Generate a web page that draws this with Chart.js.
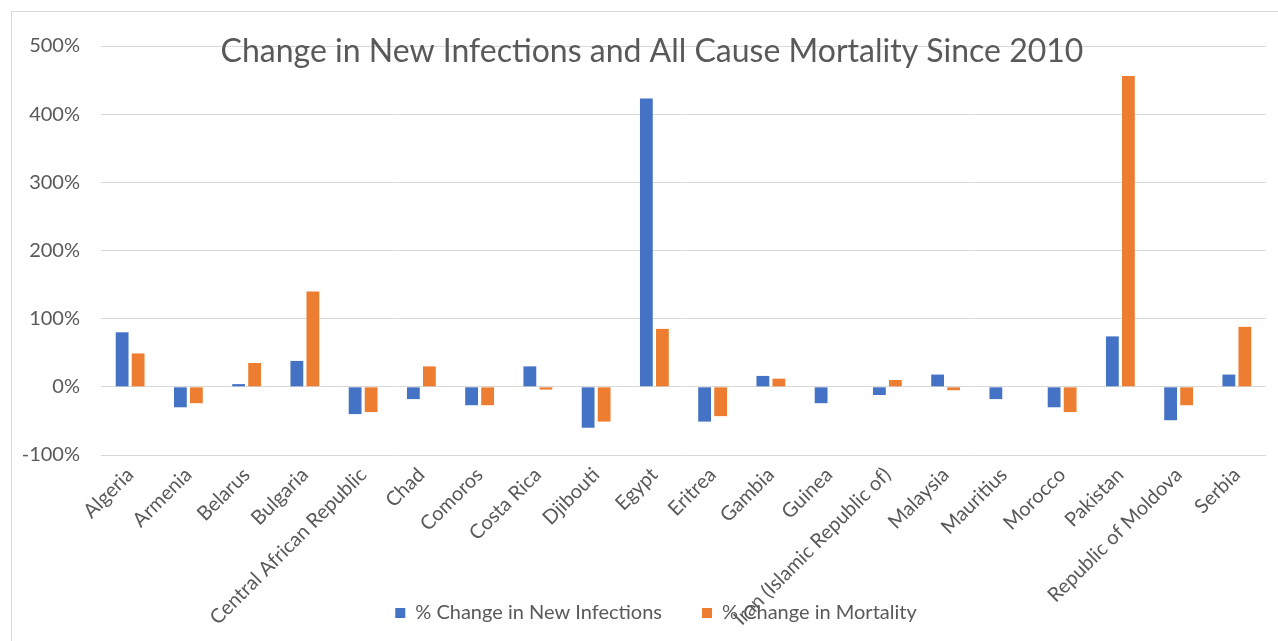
<!DOCTYPE html>
<html>
<head>
<meta charset="utf-8">
<script src="https://cdn.jsdelivr.net/npm/chart.js@4.4.0/dist/chart.umd.min.js"></script>
<style>
  html, body { margin: 0; padding: 0; background: #fff; overflow: hidden; }
  #frame { position: absolute; left: 11px; top: 11px; width: 1300px; height: 700px; border: 1px solid #d9d9d9; box-sizing: border-box; }
  #wrap { position: absolute; left: 0; top: 0; width: 1278px; height: 641px; }
</style>
</head>
<body>
<div id="frame"></div>
<div id="wrap"><canvas id="chart"></canvas></div>
<script>
const chartTitle = 'Change in New Infections and All Cause Mortality Since 2010';
const countries = [
  'Algeria', 'Armenia', 'Belarus', 'Bulgaria', 'Central African Republic', 'Chad',
  'Comoros', 'Costa Rica', 'Djibouti', 'Egypt', 'Eritrea', 'Gambia', 'Guinea',
  'Iran (Islamic Republic of)', 'Malaysia', 'Mauritius', 'Morocco', 'Pakistan',
  'Republic of Moldova', 'Serbia'
];
const newInfections = [80, -30, 4, 38, -40, -18, -27, 30, -60, 423, -51, 16, -24, -12, 18, -18, -30, 74, -49, 18];
const mortality = [49, -24, 35, 140, -37, 30, -27, -4, -51, 85, -43, 12, 0, 10, -5, 0, -37, 456, -27, 88];
const seriesNames = ['% Change in New Infections', '% Change in Mortality'];
const yMin = -100, yMax = 500, yStep = 100;

const grey = '#595959';
const blue = '#4472c4';
const orange = '#ed7d31';
const font = 'Lato';

// title sits inside the plot, over the top gridline, like the Excel original
const overlayTitle = {
  id: 'overlayTitle',
  afterDraw(chart) {
    const ctx = chart.ctx;
    ctx.save();
    ctx.font = '32px ' + font;
    ctx.fillStyle = grey;
    ctx.textAlign = 'center';
    ctx.textBaseline = 'middle';
    ctx.fillText(chartTitle, 652, 52);
    ctx.restore();
  }
};

// fixed axis boxes; labels may spill outside them (Excel lets the legend overlap the long labels)
function noClip(scale) { scale._computeLabelArea = () => undefined; }

new Chart(document.getElementById('chart'), {
  type: 'bar',
  data: {
    labels: countries,
    datasets: [
      { label: seriesNames[0], data: newInfections, backgroundColor: blue },
      { label: seriesNames[1], data: mortality, backgroundColor: orange }
    ]
  },
  options: {
    responsive: true, maintainAspectRatio: false, animation: false,
    devicePixelRatio: 1,
    categoryPercentage: 0.55, barPercentage: 0.8,
    layout: { padding: { left: 46, right: 12, top: 46, bottom: 8 } },
    plugins: {
      title: { display: false },
      tooltip: { enabled: false },
      legend: {
        position: 'bottom',
        labels: { color: grey, font: { family: font, size: 20 }, boxWidth: 10, boxHeight: 10, padding: 40 }
      }
    },
    scales: {
      x: {
        grid: { display: false },
        border: { display: false },
        ticks: { color: grey, font: { family: font, size: 20 }, minRotation: 45, maxRotation: 45, padding: 0 },
        afterFit(scale) { scale.height = 108; noClip(scale); }
      },
      y: {
        min: yMin, max: yMax,
        grid: { color: '#d9d9d9', lineWidth: 1, drawTicks: false },
        border: { display: false },
        ticks: { stepSize: yStep, color: grey, font: { family: font, size: 20 }, padding: 21, callback: v => v + '%' },
        afterFit(scale) { scale.width = 55; noClip(scale); }
      }
    }
  },
  plugins: [overlayTitle]
});
</script>
</body>
</html>
